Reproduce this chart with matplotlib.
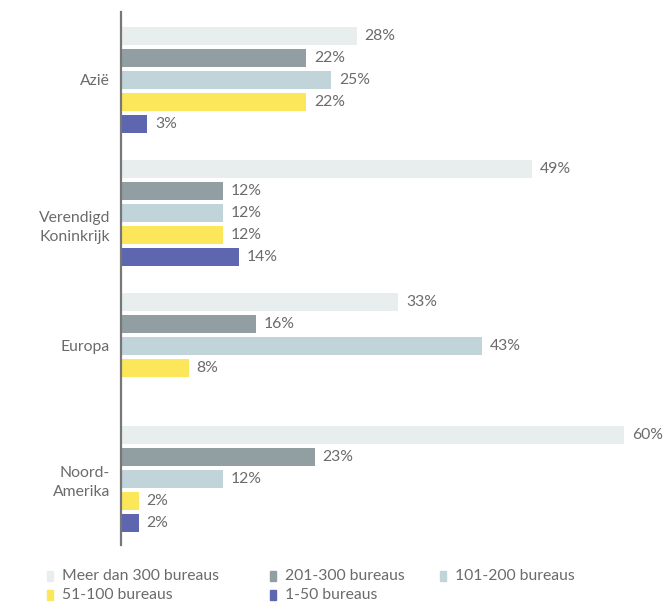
import numpy as np
import matplotlib
matplotlib.use("Agg")
import matplotlib.pyplot as plt
from matplotlib.patches import Rectangle

plt.rcParams['font.family'] = ['Lato', 'DejaVu Sans']

regions = ["Azië", "Verendigd\nKoninkrijk", "Europa", "Noord-\nAmerika"]
series = ["Meer dan 300 bureaus", "201-300 bureaus", "101-200 bureaus",
          "51-100 bureaus", "1-50 bureaus"]
values = {
    "Meer dan 300 bureaus": [28, 49, 33, 60],
    "201-300 bureaus":      [22, 12, 16, 23],
    "101-200 bureaus":      [25, 12, 43, 12],
    "51-100 bureaus":       [22, 12, 8, 2],
    "1-50 bureaus":         [3, 14, np.nan, 2],
}
colors = ["#e8eeee", "#919fa2", "#c0d4da", "#fce65a", "#5e66b0"]
text_color = "#6b6b6b"
fs = 11.3

W, H = 665, 602
fig = plt.figure(figsize=(W / 100, H / 100), dpi=100)
ax = fig.add_axes([121 / W, (H - 545) / H, (W - 121) / W, 533 / H])

group_step = 6.06
bar_h = 0.82
centers = np.arange(len(regions)) * group_step

for s, (name, col) in enumerate(zip(series, colors)):
    ys = centers + (s - 2)
    vals = np.array(values[name], dtype=float)
    for y, v in zip(ys, vals):
        if np.isnan(v):
            continue
        ax.barh(y, v, height=bar_h, color=col, left=0.15)
        ax.text(v + 0.15 + 0.9, y, f"{int(v)}%", va="center", ha="left",
                fontsize=fs, color=text_color)

ax.set_xlim(0, 65)
ax.set_ylim(centers[-1] + 3.02, centers[0] - 3.08)

label_pos = centers.copy()
label_pos[1] += 0.5
ax.set_yticks(label_pos)
ax.set_yticklabels(regions, fontsize=fs, color=text_color, linespacing=1.45)
ax.tick_params(axis="y", length=0, pad=8)
ax.set_xticks([])
for side in ["top", "right", "bottom"]:
    ax.spines[side].set_visible(False)
ax.spines["left"].set_color("#777777")
ax.spines["left"].set_linewidth(1.6)

# legend drawn in figure pixel coordinates
col_x = [50, 273, 443]
row_y = [576, 595]
for i, (name, col) in enumerate(zip(series, colors)):
    cx = col_x[i % 3]
    cy = row_y[i // 3]
    fig.patches.append(Rectangle(((cx - 3) / W, (H - cy - 5) / H), 6 / W, 10 / H,
                                 transform=fig.transFigure, color=col))
    fig.text((cx + 12) / W, (H - cy) / H, name, va="center", ha="left",
             fontsize=fs, color=text_color)

fig.savefig("out.png", dpi=100)
